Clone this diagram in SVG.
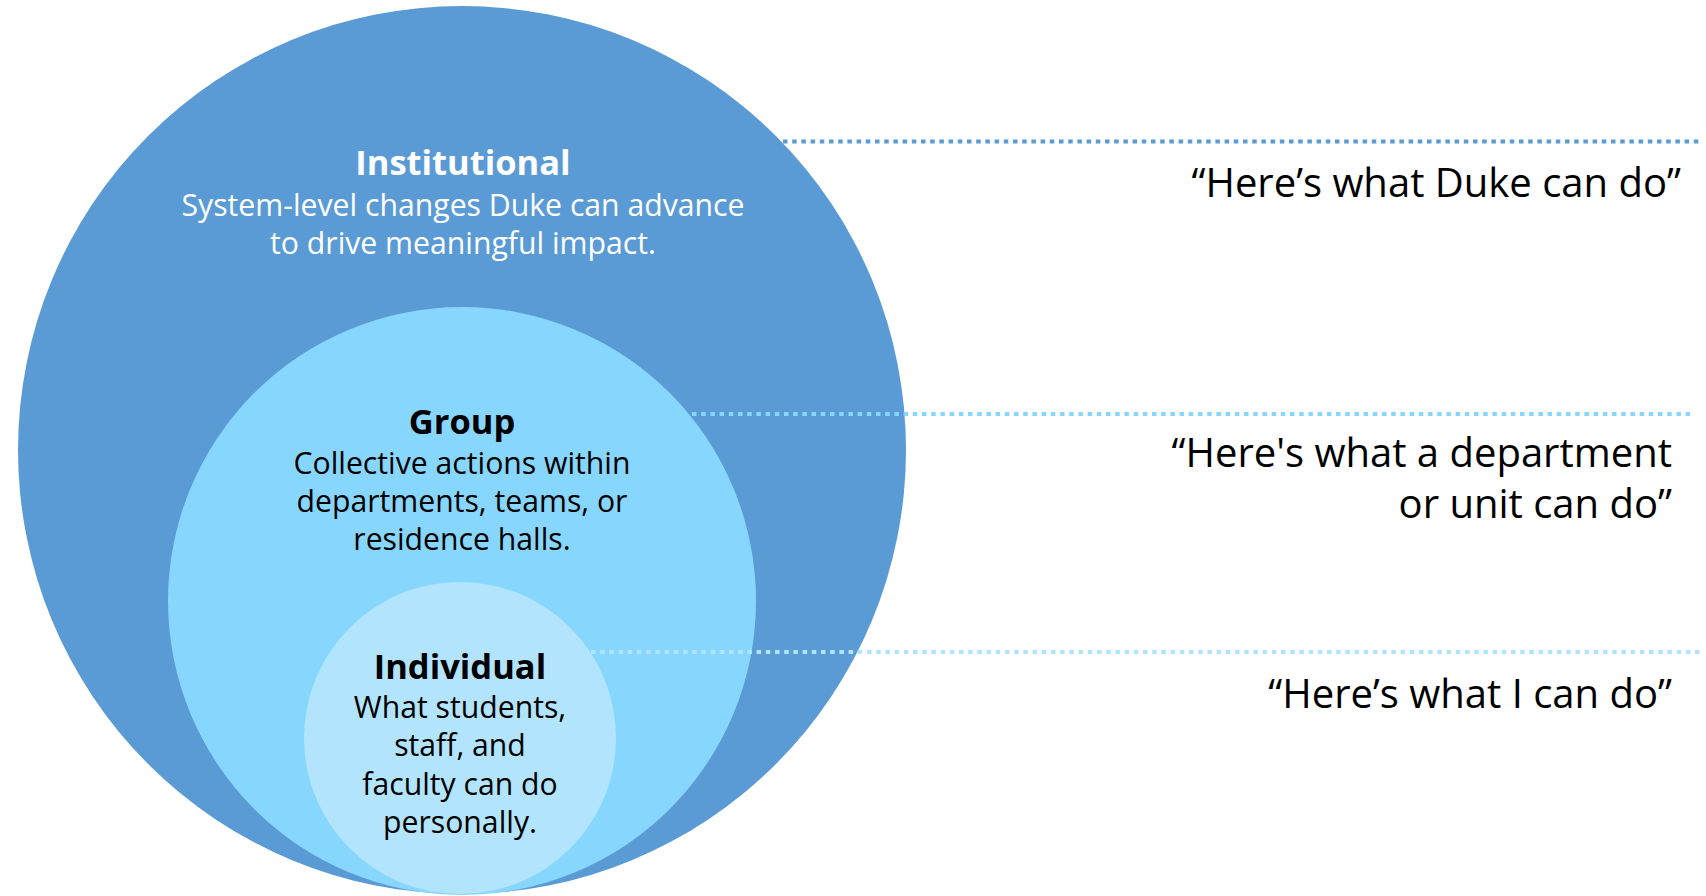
<svg xmlns="http://www.w3.org/2000/svg" width="1706" height="896" viewBox="0 0 1706 896">
  <style>
    .head { font-family: "Open Sans", "Noto Sans", sans-serif; font-weight: 700; font-size: 34.5px; text-anchor: middle; }
    .body { font-family: "Open Sans", "Noto Sans", sans-serif; font-weight: 400; font-size: 30.2px; text-anchor: middle; }
    .quote { font-family: "Open Sans", "Noto Sans", sans-serif; font-weight: 400; font-size: 40px; text-anchor: end; fill: #000000; }
    .dot { fill: none; stroke-width: 4; stroke-dasharray: 4.5 4.7; }
  </style>
  <rect x="0" y="0" width="1706" height="896" fill="#FFFFFF"/>
  <g id="institutional">
    <circle cx="462" cy="450" r="444" fill="#5B9BD5"/>
    <text class="head" x="463" y="175" fill="#FFFFFF">Institutional</text>
    <text class="body" x="463" y="216" fill="#FFFFFF">System-level changes Duke can advance</text>
    <text class="body" x="463" y="254" fill="#FFFFFF">to drive meaningful impact.</text>
  </g>
  <g id="group">
    <circle cx="462" cy="601" r="294" fill="#87D6FD"/>
    <text class="head" x="462" y="434" fill="#000000">Group</text>
    <text class="body" x="462" y="474" fill="#000000">Collective actions within</text>
    <text class="body" x="462" y="512" fill="#000000">departments, teams, or</text>
    <text class="body" x="462" y="550" fill="#000000">residence halls.</text>
  </g>
  <g id="individual">
    <circle cx="460" cy="738" r="156" fill="#B2E5FD"/>
    <text class="head" x="460" y="679" fill="#000000">Individual</text>
    <text class="body" x="460" y="718" fill="#000000">What students,</text>
    <text class="body" x="460" y="756" fill="#000000">staff, and</text>
    <text class="body" x="460" y="795" fill="#000000">faculty can do</text>
    <text class="body" x="460" y="833" fill="#000000">personally.</text>
  </g>
  <g id="connectors">
    <line class="dot" x1="783" y1="141.5" x2="1700" y2="141.5" stroke="#5B9BD5"/>
    <line class="dot" x1="692" y1="414" x2="1692" y2="414" stroke="#87D6FD"/>
    <line class="dot" x1="591" y1="652" x2="1700" y2="652" stroke="#B2E5FD"/>
  </g>
  <g id="quotes">
    <text class="quote" x="1681" y="197">“Here’s what Duke can do”</text>
    <text class="quote" x="1672" y="467">“Here's what a department</text>
    <text class="quote" x="1672" y="518">or unit can do”</text>
    <text class="quote" x="1672" y="708">“Here’s what I can do”</text>
  </g>
</svg>
